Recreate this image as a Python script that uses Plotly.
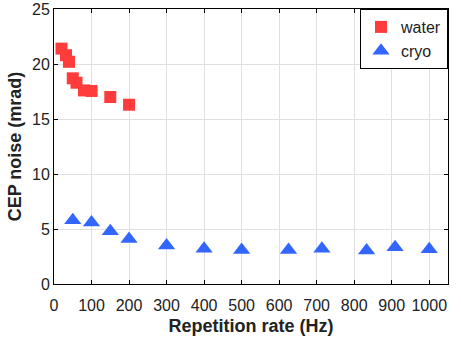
import plotly.graph_objects as go

# water (squares)
water_rate = [20, 32, 40, 50, 60, 80, 100, 150, 200]
water_noise = [21.4, 20.8, 20.2, 18.7, 18.3, 17.6, 17.55, 17.0, 16.3]

# cryo (triangles)
cryo_rate = [50, 100, 150, 200, 300, 400, 500, 625, 714, 833, 909, 1000]
cryo_noise = [5.8, 5.6, 4.8, 4.1, 3.5, 3.2, 3.1, 3.1, 3.2, 3.05, 3.35, 3.15]

x_ticks = list(range(0, 1001, 100))
y_ticks = [0, 5, 10, 15, 20, 25]

fig = go.Figure()
fig.add_trace(go.Scatter(x=water_rate, y=water_noise, mode="markers", name="water",
                         marker=dict(symbol="square", size=12, color="#FF3B3B")))
fig.add_trace(go.Scatter(x=cryo_rate, y=cryo_noise, mode="markers", name="cryo",
                         marker=dict(symbol="triangle-up", size=15, color="#3366FF")))

axis_style = dict(showline=True, linecolor="black", linewidth=1, mirror="ticks",
                  ticks="inside", ticklen=4, tickcolor="black",
                  showgrid=True, gridcolor="#E0E0E0", zeroline=False,
                  automargin=False,
                  tickfont=dict(size=16, color="#222222"))

fig.update_xaxes(range=[0, 1050], tickvals=x_ticks, ticklabelstandoff=7,
                 title=dict(text="<b>Repetition rate (Hz)</b>", font=dict(size=18), standoff=6),
                 **axis_style)
fig.update_yaxes(range=[0, 25.001], tickvals=y_ticks,
                 title=dict(text="<b>CEP noise (mrad)</b>", font=dict(size=18), standoff=5),
                 **axis_style)

fig.update_layout(
    width=461, height=341,
    margin=dict(l=54, r=13, t=9, b=57),
    plot_bgcolor="white", paper_bgcolor="white",
    font=dict(family="Liberation Sans, Arial", color="#222222"),
    legend=dict(x=1, y=1, xanchor="right", yanchor="top",
                bordercolor="black", borderwidth=1, bgcolor="white",
                font=dict(size=16), itemwidth=30),
)

# drop the default 8px body margin so the figure sits at the page corner
fig.write_html("out.html", config={"displayModeBar": False},
               post_script="document.body.style.margin = '0';")
